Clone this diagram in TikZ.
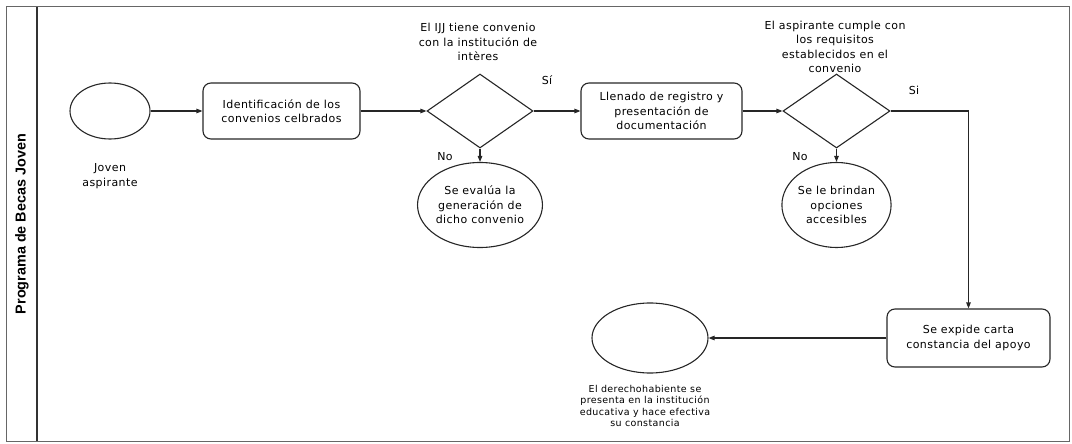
\documentclass[tikz,border=0pt]{standalone}
\usepackage{fontspec}
\setmainfont{Liberation Sans}
\newfontfamily\lblfont[LetterSpace=4]{DejaVu Sans}
\usetikzlibrary{shapes.geometric,arrows.meta}
\begin{document}
\begin{tikzpicture}[x=1pt,y=-1pt,
  ink/.style={draw=black!85,line width=1.1pt},
  lbl/.style={font=\lblfont\fontsize{11}{14.5}\selectfont,align=center,text=black},
  small/.style={font=\lblfont\fontsize{9.5}{11.5}\selectfont,align=center,text=black},
  taskbox/.style={ink,rounded corners=8pt,minimum width=#1,minimum height=56pt,inner sep=0pt,lbl},
  taskbox/.default=157pt,
  evt/.style={ink,ellipse,inner sep=0pt},
  decision/.style={ink,diamond,inner sep=0pt,minimum width=106pt,minimum height=74pt},
  flow/.style={draw=black!85,line width=1.1pt,-{Triangle[length=6pt,width=4.5pt]}}
]
\useasboundingbox (0,0) rectangle (1072,444);
% frame
\draw[draw=black!60,line width=1pt] (6,7) rectangle (1069,441);
\draw[draw=black!80,line width=1.2pt] (37,7) -- (37,441);
\node[rotate=90,font=\bfseries\fontsize{14.4}{16}\selectfont] (lane) at (22,224) {Programa de Becas Joven};

% nodes
\node[evt,minimum width=80pt,minimum height=56pt] (start) at (110,111) {};
\node[lbl] (startlbl) at (110,176) {Joven\\aspirante};

\node[taskbox=157pt] (b1) at (281.5,111) {Identificación de los\\convenios celbrados};

\node[decision] (d1) at (480,111) {};
\node[lbl] (d1lbl) at (478,42) {El IJJ tiene convenio\\con la institución de\\intères};
\node[lbl] (si1) at (547,80) {Sí};
\node[lbl] (no1) at (445,157) {No};
\node[evt,minimum width=107pt,minimum height=85pt,lbl] (e2) at (480,205) {Se evalúa la\\generación de\\dicho convenio};

\node[taskbox=161pt] (b2) at (661.5,111) {Llenado de registro y\\presentación de\\documentación};

\node[decision,minimum width=107pt] (d2) at (836.5,111) {};
\node[lbl] (d2lbl) at (835,47) {El aspirante cumple con\\los requisitos\\establecidos en el\\convenio};
\node[lbl] (si2) at (914,90) {Si};
\node[lbl] (no2) at (800,157) {No};
\node[evt,minimum width=108pt,minimum height=85pt,lbl] (e3) at (836.5,205) {Se le brindan\\opciones\\accesibles};

\node[taskbox=163pt,minimum height=58pt] (b3) at (968.5,338) {Se expide carta\\constancia del apoyo};

\node[evt,minimum width=116pt,minimum height=70pt] (end) at (650,338) {};
\node[small] (endlbl) at (645,406) {El derechohabiente se\\presenta en la institución\\educativa y hace efectiva\\su constancia};

% connectors
\draw[flow] (start.east) -- (b1.west);
\draw[flow] (b1.east) -- (d1.west);
\draw[flow] (d1.east) -- (b2.west);
\draw[flow] (d1.south) -- (e2.north);
\draw[flow] (b2.east) -- (d2.west);
\draw[flow] (d2.south) -- (e3.north);
\draw[flow] (d2.east) -| (b3.north);
\draw[flow] (b3.west) -- (end.east);
\end{tikzpicture}
\end{document}
